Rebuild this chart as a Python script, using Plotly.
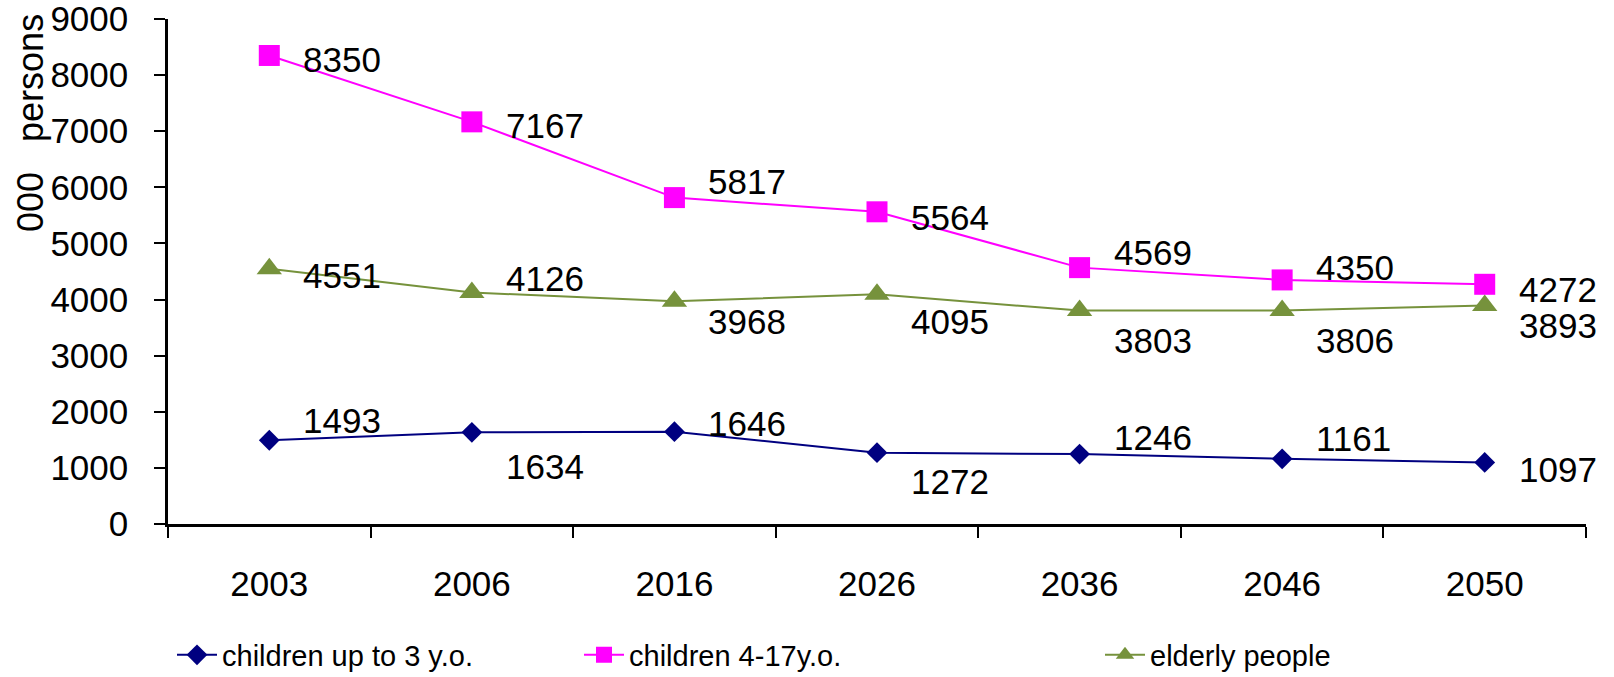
import plotly.graph_objects as go

years = ["2003", "2006", "2016", "2026", "2036", "2046", "2050"]
kids_0_3 = [1493, 1634, 1646, 1272, 1246, 1161, 1097]
kids_4_17 = [8350, 7167, 5817, 5564, 4569, 4350, 4272]
elderly = [4551, 4126, 3968, 4095, 3803, 3806, 3893]
names = ["children up to 3 y.o.", "children 4-17y.o.", "elderly people"]
y_ticks = [0, 1000, 2000, 3000, 4000, 5000, 6000, 7000, 8000, 9000]

# label vertical offsets in px (positive = down), style only
off_blue = [-20, 34, -8, 29, -17, -20, 7]
off_pink = [4, 4, -16, 6, -15, -12, 5]
off_green = [7, -14, 20, 27, 30, 30, 20]

FONT = "Liberation Sans, Arial, sans-serif"
BLUE = "#000080"
PINK = "#FF00FF"
GREEN = "#76923C"

fig = go.Figure()
series = [
    (kids_0_3, names[0], BLUE, "diamond", 16, "legend", off_blue),
    (kids_4_17, names[1], PINK, "square", 21, "legend2", off_pink),
    (elderly, names[2], GREEN, "triangle-up", 22, "legend3", off_green),
]
annotations = []
for vals, nm, col, sym, sz, lg, offs in series:
    fig.add_trace(go.Scatter(
        x=years, y=vals, name=nm, mode="lines+markers",
        line=dict(color=col, width=2),
        marker=dict(symbol=sym, size=sz, color=col),
        legend=lg,
    ))
    for i, (yv, dy) in enumerate(zip(vals, offs)):
        annotations.append(dict(
            x=i, y=yv, xref="x", yref="y", text=str(yv), showarrow=False,
            xanchor="left", yanchor="middle", xshift=32, yshift=-dy,
            font=dict(family=FONT, size=35, color="black"),
        ))

annotations.append(dict(
    x=(31 - 168) / 1418, y=(524 - 123) / 505, xref="paper", yref="paper",
    text="000   persons", showarrow=False, textangle=-90,
    xanchor="center", yanchor="middle",
    font=dict(family=FONT, size=36, color="black"),
))

leg_common = dict(orientation="h", yref="container", xref="container",
                  yanchor="middle", xanchor="left", y=1 - 655 / 677,
                  font=dict(family=FONT, size=29, color="black"),
                  bgcolor="rgba(0,0,0,0)", itemwidth=40)

fig.update_layout(
    width=1614, height=677,
    margin=dict(l=168, r=28, t=19, b=153, autoexpand=False),
    paper_bgcolor="white", plot_bgcolor="white",
    font=dict(family=FONT, size=35, color="black"),
    showlegend=True,
    legend=dict(x=172 / 1614, **leg_common),
    legend2=dict(x=579 / 1614, **leg_common),
    legend3=dict(x=1100 / 1614, **leg_common),
    annotations=annotations,
    xaxis=dict(
        type="category", range=[-0.5, 6.5], showgrid=False, automargin=False,
        showline=True, linecolor="black", linewidth=2.5,
        ticks="outside", ticklen=11, tickwidth=2, tickcolor="black",
        tickson="boundaries", ticklabelstandoff=27,
        tickfont=dict(family=FONT, size=35, color="black"),
        zeroline=False, ticklabeloverflow="allow",
    ),
    yaxis=dict(
        range=[0, 9000], tickvals=y_ticks, showgrid=False, automargin=False,
        showline=True, linecolor="black", linewidth=2.5,
        ticks="outside", ticklen=11, tickwidth=2, tickcolor="black",
        ticklabelstandoff=19, zeroline=False, ticklabeloverflow="allow",
        tickfont=dict(family=FONT, size=35, color="black"),
    ),
)

fig.write_html("out.html")
